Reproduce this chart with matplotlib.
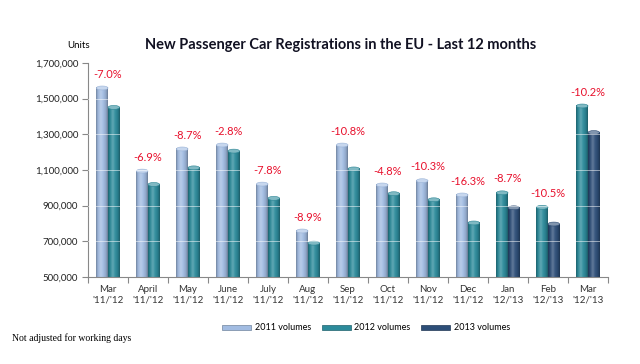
import matplotlib
matplotlib.use("Agg")
import matplotlib.pyplot as plt
import numpy as np
from matplotlib.patches import Ellipse, Patch
from matplotlib.colors import LinearSegmentedColormap, to_rgb

months = ["Mar\n'11/'12", "April\n'11/'12", "May\n'11/'12", "June\n'11/'12", "July\n'11/'12",
          "Aug\n'11/'12", "Sep\n'11/'12", "Oct\n'11/'12", "Nov\n'11/'12", "Dec\n'11/'12",
          "Jan\n'12/'13", "Feb\n'12/'13", "Mar\n'12/'13"]
# previous-year bar (left) and current-year bar (right) in each group
prev_vals = [1560000, 1094000, 1218000, 1240000, 1021000, 758000, 1240000, 1016000, 1040000,
             960000, 972000, 891000, 1459000]
prev_year = [2011]*10 + [2012]*3
curr_vals = [1451000, 1019000, 1112000, 1206000, 941000, 690000, 1106000, 967000, 933000,
             803000, 888000, 797000, 1310000]
curr_year = [2012]*10 + [2013]*3
pct_labels = ["-7.0%", "-6.9%", "-8.7%", "-2.8%", "-7.8%", "-8.9%", "-10.8%", "-4.8%",
              "-10.3%", "-16.3%", "-8.7%", "-10.5%", "-10.2%"]
yticks = [500000, 700000, 900000, 1100000, 1300000, 1500000, 1700000]

colors = {2011: "#a2bce2", 2012: "#2c8b9b", 2013: "#2d4e78"}

def shade(c, f):
    r = np.array(to_rgb(c))
    if f >= 0:
        return tuple(r + (1 - r) * f)
    return tuple(r * (1 + f))

def make_cmap(c):
    return LinearSegmentedColormap.from_list(
        "g", [(0, shade(c, -0.3)), (0.15, shade(c, -0.05)), (0.4, shade(c, 0.25)),
              (0.6, shade(c, 0.05)), (0.85, shade(c, -0.12)), (1, shade(c, -0.35))])

fig = plt.figure(figsize=(6.4, 3.64), dpi=100)
ax = fig.add_axes([88/640, 1-277/364, 520/640, 214/364])
ymin, ymax = 500000, 1700000
ax.set_xlim(0, 13)
ax.set_ylim(ymin, ymax)

bw = 0.29
grad = np.linspace(0, 1, 64).reshape(1, -1)
cap_h = 22000

def draw_bar(x0, val, year):
    c = colors[year]
    ax.imshow(grad, extent=[x0, x0 + bw, ymin, val], aspect="auto", cmap=make_cmap(c),
              zorder=2, interpolation="bilinear")
    ax.add_patch(Ellipse((x0 + bw/2, val), bw, cap_h, facecolor=shade(c, 0.4),
                         edgecolor=shade(c, -0.05), lw=0.4, zorder=3))

for i in range(13):
    cx = i + 0.5
    draw_bar(cx - bw, prev_vals[i], prev_year[i])
    draw_bar(cx, curr_vals[i], curr_year[i])
    top = max(prev_vals[i], curr_vals[i])
    ax.text(cx, top + 78000, pct_labels[i], ha="center", va="center", color="#e8112d",
            fontsize=8, family="Lato", zorder=5)

for yv in yticks[1:-1]:
    ax.axhline(yv, color="white", lw=0.6, alpha=0.6, zorder=4)

ax.set_xlim(0, 13)
ax.set_ylim(ymin, ymax)
ax.set_yticks(yticks)
ax.set_yticklabels([f"{v:,}" for v in yticks], fontsize=7, family="Lato", color="#222222")
ax.set_xticks(np.arange(0, 14))
ax.set_xticklabels([])
ax.set_xticks(np.arange(13) + 0.5, minor=True)
ax.set_xticklabels(months, minor=True, fontsize=7, family="Lato", color="#333333")
ax.tick_params(axis="x", which="minor", length=0, pad=6)
ax.tick_params(axis="x", which="major", length=4, color="#888888")
ax.tick_params(axis="y", length=4, color="#888888", pad=3)
for s in ["top", "right"]:
    ax.spines[s].set_visible(False)
for s in ["left", "bottom"]:
    ax.spines[s].set_color("#888888")
    ax.spines[s].set_linewidth(0.8)

fig.text(341/640, 1-45/364, "New Passenger Car Registrations in the EU - Last 12 months",
         ha="center", va="center", fontsize=10.5, fontweight="bold", family="Lato",
         color="#111122")
fig.text(79/640, 1-45/364, "Units", ha="center", va="center", fontsize=7, family="Lato")
fig.text(12/640, 1-338/364, "Not adjusted for working days", ha="left", va="center",
         fontsize=7, family="Liberation Serif")

handles = [Patch(facecolor=colors[y], edgecolor=shade(colors[y], -0.3), lw=0.5,
                 label=f"{y} volumes") for y in (2011, 2012, 2013)]
fig.legend(handles=handles, loc="center", bbox_to_anchor=(366/640, 1-328/364), ncol=3,
           frameon=False, handlelength=3.2, handleheight=0.5,
           columnspacing=1.2, handletextpad=0.4, prop={"family": "Lato", "size": 6.5})

fig.savefig("out.png", dpi=100)
